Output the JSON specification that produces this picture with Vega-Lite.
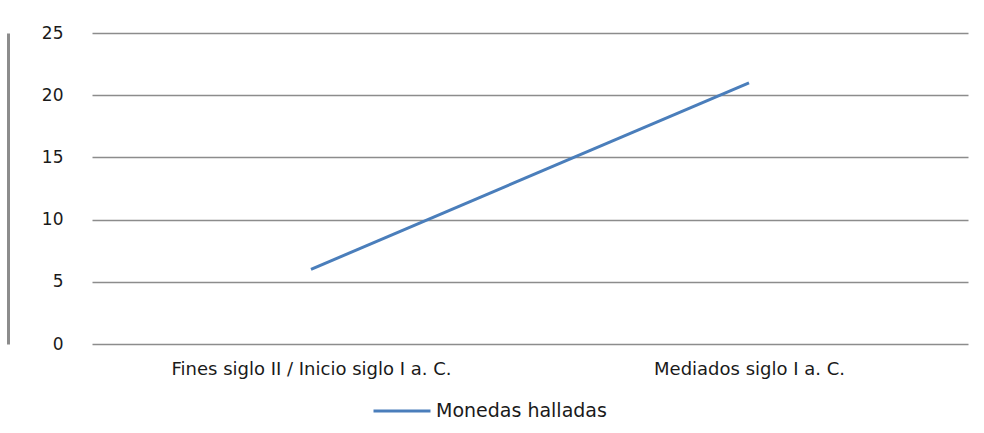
{
  "$schema": "https://vega.github.io/schema/vega-lite/v6.json",
  "autosize": {"type": "none"},
  "width": 876,
  "height": 311,
  "padding": {"left": 92, "top": 33, "right": 16, "bottom": 89},
  "background": "white",
  "config": {
    "view": {"stroke": null},
    "font": "DejaVu Sans",
    "axis": {"labelFont": "DejaVu Sans", "labelColor": "#1a1a1a"}
  },
  "data": {
    "values": [
      {"periodo": "Fines siglo II / Inicio siglo I a. C.", "serie": "Monedas halladas", "monedas": 6},
      {"periodo": "Mediados siglo I a. C.", "serie": "Monedas halladas", "monedas": 21}
    ]
  },
  "mark": {"type": "line", "strokeWidth": 3},
  "encoding": {
    "x": {
      "field": "periodo",
      "type": "nominal",
      "sort": null,
      "scale": {"paddingInner": 0, "paddingOuter": 0},
      "axis": {"title": null, "labelAngle": 0, "labelLimit": 0, "labelFontSize": 18, "domain": false, "ticks": false, "labelPadding": 16, "grid": false}
    },
    "y": {
      "field": "monedas",
      "type": "quantitative",
      "scale": {"domain": [0, 25], "nice": false},
      "axis": {
        "title": null,
        "values": [0, 5, 10, 15, 20, 25],
        "labelFontSize": 17,
        "grid": true,
        "gridColor": "#8c8c8c",
        "gridWidth": 1.5,
        "ticks": false,
        "domain": true,
        "domainColor": "#8c8c8c",
        "domainWidth": 3,
        "offset": 84,
        "labelPadding": -55,
        "labelAlign": "right"
      }
    },
    "color": {
      "field": "serie",
      "type": "nominal",
      "scale": {"range": ["#4a7ebb"]},
      "legend": {
        "title": null,
        "orient": "none",
        "legendX": 280,
        "legendY": 348,
        "symbolType": "stroke",
        "symbolSize": 3249,
        "symbolStrokeWidth": 3,
        "labelFontSize": 19,
        "labelLimit": 0,
        "labelFont": "DejaVu Sans",
        "labelColor": "#1a1a1a",
        "labelOffset": 4
      }
    }
  }
}
